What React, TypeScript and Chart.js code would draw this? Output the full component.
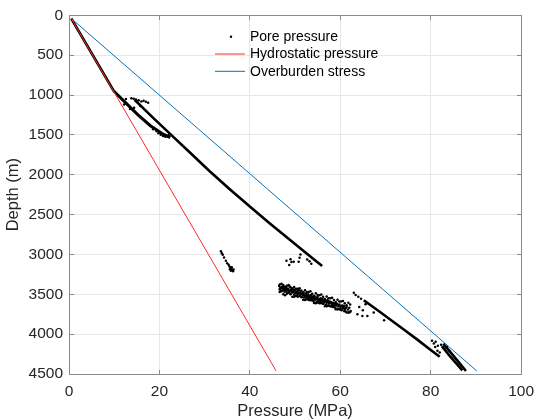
import React, { useEffect, useRef } from 'react';
import { Chart, registerables } from 'chart.js';

Chart.register(...registerables);

type P = [number, number];

const FONT = '"Liberation Sans", Arial, Helvetica, sans-serif';

const xTickValues = [0, 20, 40, 60, 80, 100];
const yTickValues = [0, 500, 1000, 1500, 2000, 2500, 3000, 3500, 4000, 4500];
const legendLabels = ['Pore pressure', 'Hydrostatic pressure', 'Overburden stress'];
const axisTitles = { x: 'Pressure (MPa)', y: 'Depth (m)' };

// Reference lines [pressure MPa, depth m]
const hydrostaticLine: P[] = [[0.5, 40], [45.8, 4460]];
const overburdenLine: P[] = [[0.5, 40], [90.2, 4462]];

// Dense pore-pressure trends (many overlapping samples, drawn as thick strokes)
const poreShallowTrend: P[] = [[0.5, 40], [5.2, 495], [9.9, 950]];
const poreLowerBand: P[] = [[9.9, 950], [12.5, 1095], [15.2, 1245], [18.0, 1385], [20.5, 1480], [22.4, 1535]];
const poreUpperTrend: P[] = [
  [14.5, 1060], [18.5, 1280], [22.6, 1500], [26.8, 1725], [31.0, 1950], [35.5, 2180],
  [40.0, 2400], [44.3, 2605], [48.5, 2800], [52.3, 2975], [56.0, 3146],
];
const poreDeepTrend: P[] = [[65.2, 3575], [68.5, 3710], [71.5, 3835], [74.5, 3960], [77.2, 4075], [79.8, 4190], [82.0, 4284]];
const poreBottomBandA: P[] = [[82.8, 4120], [84.5, 4235], [86.2, 4350], [87.8, 4462]];
const poreBottomBandB: P[] = [[82.5, 4150], [84.3, 4280], [86.0, 4390], [87.0, 4455]];

// Individual pore-pressure samples
const poreScatter: P[] = [
  [12.6, 1050], [13.8, 1042], [14.3, 1046], [14.8, 1055], [15.4, 1067], [16.0, 1080], [16.5, 1071],
  [17.0, 1084], [17.5, 1096], [15.1, 1084], [15.8, 1137], [14.4, 1159], [13.5, 1175], [12.2, 1120],
  [19.8, 1480], [20.3, 1500], [20.8, 1515], [21.3, 1525], [21.8, 1520], [20.6, 1490], [19.4, 1455],
  [18.6, 1430], [22.0, 1505],
  [33.6, 2960], [33.8, 2985], [34.0, 3005], [34.3, 3040], [34.7, 3080], [35.0, 3110], [35.3, 3130],
  [35.5, 3150], [35.7, 3165], [35.9, 3180], [36.1, 3195], [36.3, 3210], [35.6, 3185], [36.0, 3160],
  [36.4, 3190], [35.8, 3205],
  [48.1, 3080], [48.7, 3134], [49.2, 3096], [49.7, 3093], [50.8, 3093], [51.2, 3000], [51.0, 3042],
  [52.7, 3062], [53.2, 3084], [53.6, 3117], [49.0, 3060],
  [63.0, 3480], [63.4, 3509], [64.0, 3530], [64.6, 3555], [65.6, 3625], [67.4, 3730], [66.0, 3771],
  [64.9, 3771], [63.8, 3750], [62.3, 3709], [69.7, 3825], [64.2, 3660], [65.0, 3700],
  [80.3, 4084], [80.7, 4117], [81.1, 4096], [81.6, 4146], [82.3, 4134], [82.7, 4167], [83.1, 4188],
  [81.5, 4209], [82.0, 4230], [81.0, 4160], [83.6, 4160], [84.2, 4210],
];

const poreCloud: P[] = [
  [46.5, 3395], [46.6, 3440], [46.8, 3418], [46.9, 3460], [47.1, 3405], [47.2, 3432], [47.3, 3450], [47.4, 3385],
  [47.6, 3425], [47.7, 3470], [47.8, 3440], [47.9, 3410], [48.0, 3455], [48.1, 3420], [48.3, 3480], [48.4, 3445],
  [48.5, 3430], [48.6, 3468], [48.8, 3400], [48.9, 3452], [49.0, 3490], [49.1, 3440], [49.3, 3465], [49.4, 3425],
  [49.5, 3478], [49.7, 3450], [49.8, 3505], [49.9, 3462], [50.0, 3440], [50.1, 3488], [50.3, 3470], [50.4, 3515],
  [50.5, 3460], [50.6, 3495], [50.8, 3478], [50.9, 3450], [51.0, 3520], [51.1, 3485], [51.3, 3500], [51.4, 3465],
  [51.5, 3530], [51.6, 3495], [51.8, 3512], [51.9, 3478], [52.0, 3540], [52.2, 3505], [52.3, 3522], [52.4, 3490],
  [52.5, 3548], [52.6, 3515], [52.8, 3530], [52.9, 3500], [53.0, 3555], [53.1, 3520], [53.3, 3540], [53.4, 3575],
  [53.5, 3510], [53.7, 3548], [53.8, 3528], [53.9, 3565], [54.0, 3540], [54.1, 3585], [54.3, 3525], [54.4, 3558],
  [54.5, 3570], [54.7, 3540], [54.8, 3595], [54.9, 3555], [55.0, 3535], [55.2, 3575], [55.3, 3560], [55.4, 3600],
  [55.5, 3580], [55.7, 3550], [55.8, 3612], [55.9, 3570], [56.0, 3590], [56.1, 3560], [56.3, 3620], [56.4, 3580],
  [56.5, 3598], [56.7, 3570], [56.8, 3630], [56.9, 3585], [57.0, 3605], [57.2, 3575], [57.3, 3640], [57.4, 3595],
  [57.6, 3615], [57.7, 3590], [57.9, 3650], [58.0, 3600], [58.2, 3625], [58.3, 3660], [58.4, 3605], [58.6, 3635],
  [58.8, 3612], [58.9, 3668], [59.1, 3640], [59.3, 3620], [59.4, 3680], [59.6, 3650], [59.8, 3628], [59.9, 3690],
  [60.1, 3655], [60.3, 3700], [60.4, 3640], [60.6, 3668], [60.8, 3645], [60.9, 3712], [61.1, 3675], [61.3, 3720],
  [61.4, 3660], [61.7, 3690], [61.9, 3730], [62.0, 3670],
  [46.7, 3425], [47.0, 3415], [47.5, 3448], [48.2, 3438], [48.7, 3458], [49.2, 3452], [49.6, 3470], [50.2, 3478],
  [50.7, 3485], [51.2, 3492], [51.7, 3500], [52.1, 3515], [52.7, 3525], [53.2, 3532], [53.6, 3538], [54.2, 3548],
  [54.6, 3556], [55.1, 3565], [55.6, 3572], [56.2, 3585], [56.6, 3590], [57.1, 3598], [57.5, 3606], [58.1, 3615],
  [58.7, 3625], [59.2, 3632], [59.7, 3642], [60.2, 3650], [60.7, 3658], [61.2, 3668],
  [46.6, 3377], [46.6, 3472], [47.0, 3368], [47.0, 3463], [47.4, 3500], [47.4, 3405], [47.8, 3406], [47.8, 3511],
  [48.2, 3493], [48.2, 3393], [48.6, 3385], [48.6, 3480], [49.0, 3499], [49.0, 3413], [49.4, 3440], [49.4, 3530],
  [49.8, 3532], [49.8, 3408], [50.2, 3431], [50.2, 3523], [50.6, 3532], [50.6, 3432], [51.0, 3424], [51.0, 3519],
  [51.4, 3538], [51.4, 3452], [51.8, 3479], [51.8, 3569], [52.2, 3572], [52.2, 3448], [52.6, 3470], [52.6, 3562],
  [53.0, 3572], [53.0, 3472], [53.4, 3463], [53.4, 3558], [53.8, 3578], [53.8, 3492], [54.2, 3519], [54.2, 3609],
  [54.6, 3612], [54.6, 3488], [55.0, 3510], [55.0, 3602], [55.4, 3612], [55.4, 3512], [55.8, 3503], [55.8, 3598],
  [56.2, 3618], [56.2, 3532], [56.6, 3559], [56.6, 3649], [57.0, 3651], [57.0, 3527], [57.4, 3550], [57.4, 3642],
  [57.8, 3651], [57.8, 3551], [58.2, 3543], [58.2, 3638], [58.6, 3658], [58.6, 3572], [59.0, 3598], [59.0, 3688],
  [59.4, 3691], [59.4, 3567], [59.8, 3589], [59.8, 3681], [60.2, 3691], [60.2, 3591], [60.6, 3583], [60.6, 3678],
  [61.0, 3697], [61.0, 3611], [61.4, 3638], [61.4, 3728], [61.8, 3730], [61.8, 3606], [62.2, 3629], [62.2, 3721],
];

const toXY = (arr: P[]) => arr.map(([x, y]) => ({ x, y }));
const alignPx = (p: number) => Math.round(p - 0.5) + 0.5;

const frameAndLegend = {
  id: 'frameAndLegend',
  afterDraw(chart: any) {
    const { ctx, chartArea: a, scales } = chart;
    ctx.save();
    // axes box
    ctx.strokeStyle = '#8a8a8a';
    ctx.lineWidth = 1;
    const L = alignPx(a.left), R = alignPx(a.right), T = alignPx(a.top), B = alignPx(a.bottom);
    ctx.beginPath();
    ctx.rect(L, T, R - L, B - T);
    ctx.stroke();
    // inward ticks on all four sides
    const tl = 4.5;
    ctx.beginPath();
    xTickValues.forEach((v) => {
      const px = alignPx(scales.x.getPixelForValue(v));
      ctx.moveTo(px, B); ctx.lineTo(px, B - tl);
      ctx.moveTo(px, T); ctx.lineTo(px, T + tl);
    });
    yTickValues.forEach((v) => {
      const py = alignPx(scales.y.getPixelForValue(v));
      ctx.moveTo(L, py); ctx.lineTo(L + tl, py);
      ctx.moveTo(R, py); ctx.lineTo(R - tl, py);
    });
    ctx.stroke();

    // legend
    const lx = a.left + 146;
    const tx = a.left + 181;
    const rows = [a.top + 21.5, a.top + 38.7, a.top + 56];
    ctx.font = `14px ${FONT}`;
    ctx.textBaseline = 'middle';
    ctx.textAlign = 'left';
    ctx.fillStyle = '#000';
    ctx.beginPath();
    ctx.arc(a.left + 162, rows[0], 1.2, 0, Math.PI * 2);
    ctx.fill();
    ctx.lineWidth = 1;
    ctx.strokeStyle = '#ff2a2a';
    ctx.beginPath();
    ctx.moveTo(lx, rows[1]); ctx.lineTo(lx + 30, rows[1]);
    ctx.stroke();
    ctx.strokeStyle = '#0072bd';
    ctx.beginPath();
    ctx.moveTo(lx, rows[2]); ctx.lineTo(lx + 30, rows[2]);
    ctx.stroke();
    legendLabels.forEach((t, i) => ctx.fillText(t, tx, rows[i] + 0.5));
    ctx.restore();
  },
};

export default function App() {
  const ref = useRef<HTMLCanvasElement | null>(null);

  useEffect(() => {
    if (!ref.current) return;
    const trendStyle = {
      showLine: true,
      borderColor: '#000',
      borderWidth: 2.6,
      pointRadius: 0,
      order: 3,
    };
    const chart = new Chart(ref.current, {
      type: 'scatter',
      data: {
        datasets: [
          { label: legendLabels[1], data: toXY(hydrostaticLine), showLine: true, borderColor: '#ff2a2a', borderWidth: 1, pointRadius: 0, order: 0 },
          { label: legendLabels[2], data: toXY(overburdenLine), showLine: true, borderColor: '#0072bd', borderWidth: 1, pointRadius: 0, order: 1 },
          { label: legendLabels[0], data: toXY([...poreScatter, ...poreCloud]), showLine: false, pointRadius: 1.25, backgroundColor: '#000', borderWidth: 0, order: 2 },
          { label: 'trend1', data: toXY(poreShallowTrend), ...trendStyle },
          { label: 'trend2', data: toXY(poreLowerBand), ...trendStyle, borderWidth: 3 },
          { label: 'trend3', data: toXY(poreUpperTrend), ...trendStyle },
          { label: 'trend4', data: toXY(poreDeepTrend), ...trendStyle },
          { label: 'trend5', data: toXY(poreBottomBandA), ...trendStyle },
          { label: 'trend6', data: toXY(poreBottomBandB), ...trendStyle },
        ] as any,
      },
      options: {
        animation: false,
        responsive: false,
        maintainAspectRatio: false,
        devicePixelRatio: 1,
        layout: { padding: { left: 0, top: 13, right: 14, bottom: 0 } },
        plugins: { legend: { display: false }, tooltip: { enabled: false } },
        scales: {
          x: {
            type: 'linear',
            min: 0,
            max: 100,
            ticks: {
              stepSize: 20,
              padding: 8,
              color: '#262626',
              font: { family: FONT, size: 15.5 },
              maxRotation: 0,
              callback: (v: any) => String(v),
            },
            grid: { color: '#e6e6e6', drawTicks: false, lineWidth: 1 },
            border: { display: false },
            title: {
              display: true,
              text: axisTitles.x,
              color: '#262626',
              font: { family: FONT, size: 16.5, lineHeight: 1 },
              padding: { top: 0, bottom: 0 },
            },
            afterFit: (s: any) => { s.height = 46; },
          },
          y: {
            type: 'linear',
            reverse: true,
            min: 0,
            max: 4500,
            ticks: {
              stepSize: 500,
              padding: 6,
              color: '#262626',
              font: { family: FONT, size: 15.5 },
              callback: (v: any) => String(v),
            },
            grid: { color: '#e6e6e6', drawTicks: false, lineWidth: 1 },
            border: { display: false },
            title: {
              display: true,
              text: axisTitles.y,
              color: '#262626',
              font: { family: FONT, size: 16.5, lineHeight: 1 },
              padding: { top: 5, bottom: 0 },
            },
            afterFit: (s: any) => { s.width = 69; },
          },
        },
      } as any,
      plugins: [frameAndLegend],
    });
    return () => chart.destroy();
  }, []);

  return (
    <div style={{ position: 'absolute', left: 0, top: 0, width: 542, height: 420, background: '#fff' }}>
      <canvas ref={ref} width={542} height={420} style={{ width: 542, height: 420, display: 'block' }} />
    </div>
  );
}
